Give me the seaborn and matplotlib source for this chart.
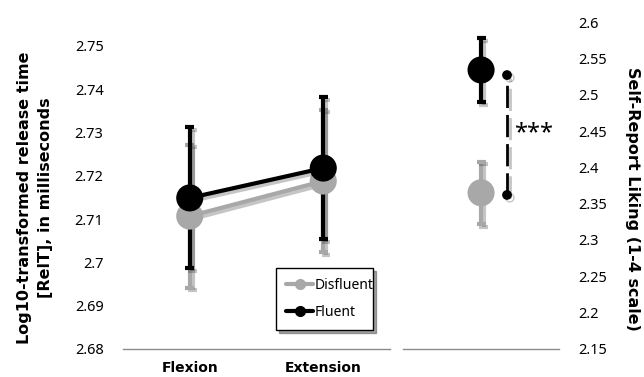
import numpy as np
import pandas as pd
import seaborn as sns
import matplotlib
matplotlib.use("Agg")
import matplotlib.pyplot as plt
import matplotlib.patheffects as pe
from matplotlib.lines import Line2D

# ---- data ----
categories = ["Flexion", "Extension"]
disfluent_relt = [2.7107, 2.7188]
disfluent_relt_err = [0.0165, 0.0165]
fluent_relt = [2.7149, 2.7218]
fluent_relt_err = [0.0163, 0.0164]

liking_groups = ["Disfluent", "Fluent"]
liking_means = [2.365, 2.534]
liking_err = [0.043, 0.044]

left_ticks = [2.68, 2.69, 2.70, 2.71, 2.72, 2.73, 2.74, 2.75]
left_ticklabels = ["2.68", "2.69", "2.7", "2.71", "2.72", "2.73", "2.74", "2.75"]
right_ticks = [2.15, 2.2, 2.25, 2.3, 2.35, 2.4, 2.45, 2.5, 2.55, 2.6]
right_ticklabels = ["2.15", "2.2", "2.25", "2.3", "2.35", "2.4", "2.45", "2.5", "2.55", "2.6"]

GRAY = "#a8a8a8"
BLACK = "#000000"
colors = {"Disfluent": GRAY, "Fluent": BLACK}
BOLD_FAMILY = ["DejaVu Sans"]

sns.set_theme(style="white")
plt.rcParams["font.family"] = ["Noto Sans", "DejaVu Sans"]
plt.rcParams["text.color"] = "black"
plt.rcParams["axes.labelcolor"] = "black"
plt.rcParams["xtick.color"] = "black"
plt.rcParams["ytick.color"] = "black"

fig = plt.figure(figsize=(6.44, 3.77), dpi=100)
ax = fig.add_axes([0.191, 0.0743, 0.4146, 0.8037])
ax2 = fig.add_axes([0.626, 0.0743, 0.242, 0.8673])

shadow = [pe.SimpleLineShadow(offset=(2, -2), alpha=0.25, shadow_color="k"), pe.Normal()]

df = pd.DataFrame({
    "movement": categories * 2,
    "group": ["Disfluent"] * 2 + ["Fluent"] * 2,
    "relt": disfluent_relt + fluent_relt,
    "err": disfluent_relt_err + fluent_relt_err,
})

xpos = {c: i for i, c in enumerate(categories)}
for grp in ["Disfluent", "Fluent"]:
    sub = df[df["group"] == grp]
    xs = [xpos[m] for m in sub["movement"]]
    eb = ax.errorbar(xs, sub["relt"], yerr=sub["err"], fmt="none", ecolor=colors[grp],
                     elinewidth=3, capsize=3.2, capthick=3, zorder=2)
    for art in eb.lines[1] + eb.lines[2]:
        art.set_path_effects(shadow)
    sns.lineplot(x=xs, y=sub["relt"].values, ax=ax, color=colors[grp], lw=3,
                 marker="o", markersize=19.5, markeredgewidth=0, zorder=3,
                 path_effects=shadow, legend=False)

ax.set_xlim(-0.5, 1.5)
ax.set_ylim(2.68, 2.75)
ax.set_xticks([0, 1])
ax.set_xticklabels(categories, fontsize=10, fontweight="bold", family=BOLD_FAMILY)
ax.set_yticks(left_ticks)
ax.set_yticklabels(left_ticklabels, fontsize=10.5)
ax.tick_params(axis="both", length=0)
ax.tick_params(axis="x", pad=9)
ax.tick_params(axis="y", pad=14)
for s in ["top", "right", "left"]:
    ax.spines[s].set_visible(False)
ax.spines["bottom"].set_color("#8c8c8c")
ax.spines["bottom"].set_linewidth(1)
ax.set_xlabel("")
ax.set_ylabel("Log10-transformed release time\n[RelT], in milliseconds",
              fontsize=11.5, fontweight="bold", family=BOLD_FAMILY, linespacing=1.5,
              va="center", ha="center")
ax.yaxis.set_label_coords(-0.33, 0.5)

handles = [Line2D([0], [0], color=GRAY, lw=3, marker="o", markersize=7),
           Line2D([0], [0], color=BLACK, lw=3, marker="o", markersize=7)]
leg = ax.legend(handles, liking_groups, loc="lower left", bbox_to_anchor=(0.547, 0.04, 0.416, 0.198),
                mode="expand", frameon=True, fancybox=False, shadow=True, fontsize=10,
                handlelength=2.0, handletextpad=0.1, borderpad=0.7, labelspacing=0.9)
leg.get_frame().set_edgecolor("black")
leg.get_frame().set_linewidth(1)

# right panel
for i, grp in enumerate(liking_groups):
    eb = ax2.errorbar([0], [liking_means[i]], yerr=[liking_err[i]], fmt="none",
                      ecolor=colors[grp], elinewidth=3, capsize=3.2, capthick=3, zorder=2)
    for art in eb.lines[1] + eb.lines[2]:
        art.set_path_effects(shadow)
    sns.lineplot(x=[0], y=[liking_means[i]], ax=ax2, color=colors[grp], lw=0,
                 marker="o", markersize=19.5, markeredgewidth=0, zorder=3,
                 path_effects=shadow, legend=False)

ax2.plot([0.333, 0.333], [liking_means[0] - 0.003, liking_means[1] - 0.007], color="black",
         lw=2, linestyle=(0, (8, 2.5)), marker="o", markersize=6, path_effects=shadow)
ax2.text(0.42, 2.447, "***", fontsize=17, va="center", ha="left")

ax2.set_xlim(-1, 1)
ax2.set_ylim(2.15, 2.6)
ax2.set_xticks([])
ax2.set_yticks(right_ticks)
ax2.set_yticklabels(right_ticklabels, fontsize=10.5)
ax2.yaxis.tick_right()
ax2.tick_params(axis="y", length=0, pad=14)
for s in ["top", "right", "left"]:
    ax2.spines[s].set_visible(False)
ax2.spines["bottom"].set_color("#8c8c8c")
ax2.spines["bottom"].set_linewidth(1)
ax2.yaxis.set_label_position("right")
ax2.set_ylabel("Self-Report Liking (1-4 scale)", fontsize=11.5, fontweight="bold",
               family=BOLD_FAMILY, rotation=270, va="center", ha="center")
ax2.yaxis.set_label_coords(1.474, 0.46)

fig.savefig("out.png", dpi=100)
